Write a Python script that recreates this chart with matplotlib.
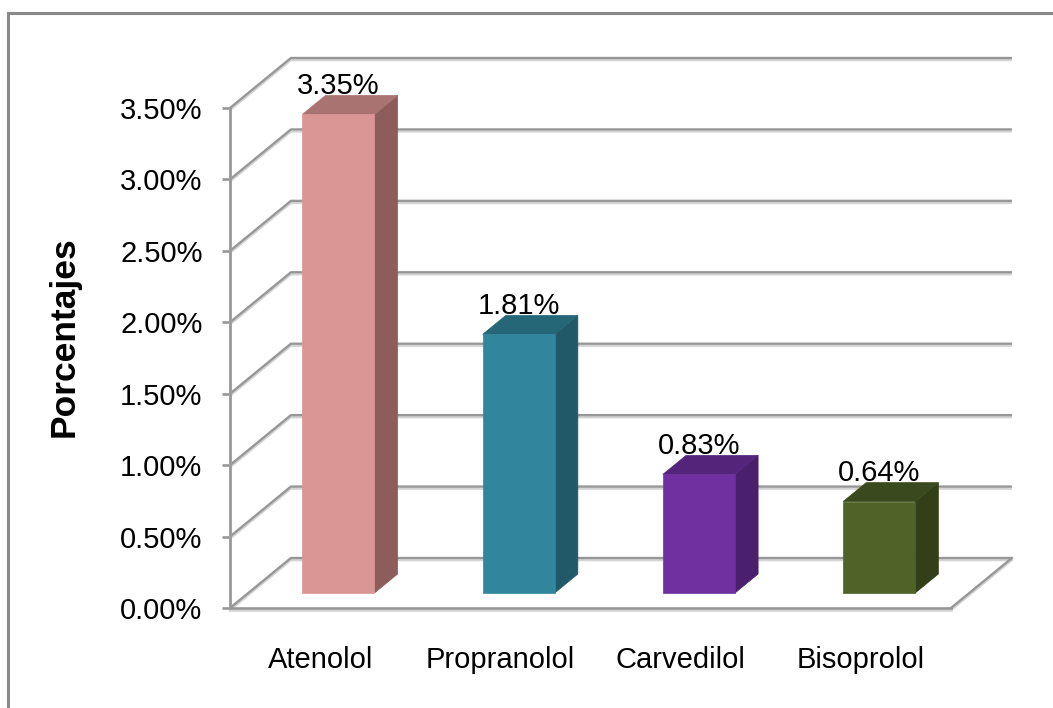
import matplotlib
matplotlib.use("Agg")
import matplotlib.pyplot as plt
from matplotlib.patches import Polygon
from matplotlib.lines import Line2D
import matplotlib.patheffects as pe

# ---- data ----
categories = ["Atenolol", "Propranolol", "Carvedilol", "Bisoprolol"]
values = [3.35, 1.81, 0.83, 0.64]
value_labels = ["3.35%", "1.81%", "0.83%", "0.64%"]
y_ticks = [0.0, 0.5, 1.0, 1.5, 2.0, 2.5, 3.0, 3.5]
y_tick_labels = ["0.00%", "0.50%", "1.00%", "1.50%", "2.00%", "2.50%", "3.00%", "3.50%"]
y_title = "Porcentajes"

# ---- styling ----
front_colors = ["#D99694", "#31859C", "#7030A0", "#4F6228"]
top_colors = ["#A87371", "#256677", "#53247A", "#3B4A1E"]
side_colors = ["#8C5D5B", "#215968", "#4A1F6B", "#333F19"]
grid_color = "#979797"
shadow_color = "#D4D4D4"

plt.rcParams["font.family"] = ["Liberation Sans", "DejaVu Sans"]

W_PX, H_PX = 1053, 708
fig = plt.figure(figsize=(W_PX / 100, H_PX / 100), dpi=100)
fig.patch.set_facecolor("white")

# front plane of the 3-D box
ax = fig.add_axes([230 / W_PX, 100 / H_PX, 721 / W_PX, 500 / H_PX])
n = len(categories)
y_max = y_ticks[-1]
ax.set_xlim(0, n)
ax.set_ylim(0, y_max)
ax.patch.set_visible(False)

# perspective depth of the box in data units
DX = 0.338
DY = 0.35
BAR_FRONT = 0.30   # depth at which bar front faces sit
BAR_DEPTH = 0.38   # bar depth as fraction of box depth
BAR_W = 0.40

line_fx = [pe.SimpleLineShadow(offset=(0, -1.5), shadow_color=shadow_color, alpha=1.0),
           pe.Normal()]

# side wall diagonals and back wall gridlines
for v in y_ticks:
    ax.plot([0, DX, n + DX], [v, v + DY, v + DY], color=grid_color, lw=1.7,
            clip_on=False, zorder=1, solid_capstyle="butt", path_effects=line_fx)
# floor right edge
ax.plot([n, n + DX], [0, DY], color=grid_color, lw=1.7, clip_on=False, zorder=1,
        path_effects=line_fx)

# axes lines
for side in ["top", "right"]:
    ax.spines[side].set_visible(False)
for side in ["left", "bottom"]:
    ax.spines[side].set_color(grid_color)
    ax.spines[side].set_linewidth(1.9)
    ax.spines[side].set_path_effects(line_fx)

ax.set_yticks(y_ticks)
ax.set_yticklabels(y_tick_labels)
ax.tick_params(axis="y", direction="out", length=5.8, width=1.9, color=grid_color,
               pad=14, labelsize=21, labelcolor="black")
ax.set_xticks([i + 0.5 for i in range(n)])
ax.set_xticklabels(categories)
ax.tick_params(axis="x", length=0, pad=27, labelsize=21, labelcolor="black")

# bars as 3-D prisms
for i, (v, lab) in enumerate(zip(values, value_labels)):
    xl = i + 0.5 - BAR_W / 2 + BAR_FRONT * DX
    xr = xl + BAR_W
    yb = BAR_FRONT * DY
    yt = yb + v
    ddx = BAR_DEPTH * DX
    ddy = BAR_DEPTH * DY
    side = Polygon([(xr, yb), (xr, yt), (xr + ddx, yt + ddy), (xr + ddx, yb + ddy)],
                   closed=True, facecolor=side_colors[i], edgecolor=side_colors[i],
                   lw=0.5, zorder=3, clip_on=False)
    top = Polygon([(xl, yt), (xr, yt), (xr + ddx, yt + ddy), (xl + ddx, yt + ddy)],
                  closed=True, facecolor=top_colors[i], edgecolor=top_colors[i],
                  lw=0.5, zorder=3, clip_on=False)
    front = Polygon([(xl, yb), (xr, yb), (xr, yt), (xl, yt)], closed=True,
                    facecolor=front_colors[i], edgecolor=front_colors[i],
                    lw=0.5, zorder=4, clip_on=False)
    for p in (side, top, front):
        ax.add_patch(p)
    ax.text((xl + xr) / 2, yt + ddy + 0.012, lab, ha="center", va="baseline",
            fontsize=21, color="black", zorder=5, clip_on=False)

# vertical axis title
fig.text(64 / W_PX, 1 - 337 / H_PX, y_title, rotation=90, ha="center", va="center",
         fontsize=25.5, fontweight="bold", color="black")

# chart area border
border_color = "#8A8A8A"
fig.add_artist(Line2D([8 / W_PX, 8 / W_PX], [0, 1 - 13 / H_PX],
                      transform=fig.transFigure, color=border_color, lw=2.2))
fig.add_artist(Line2D([8 / W_PX, 1], [1 - 13 / H_PX, 1 - 13 / H_PX],
                      transform=fig.transFigure, color=border_color, lw=2.2))

fig.savefig("out.png", dpi=100)
